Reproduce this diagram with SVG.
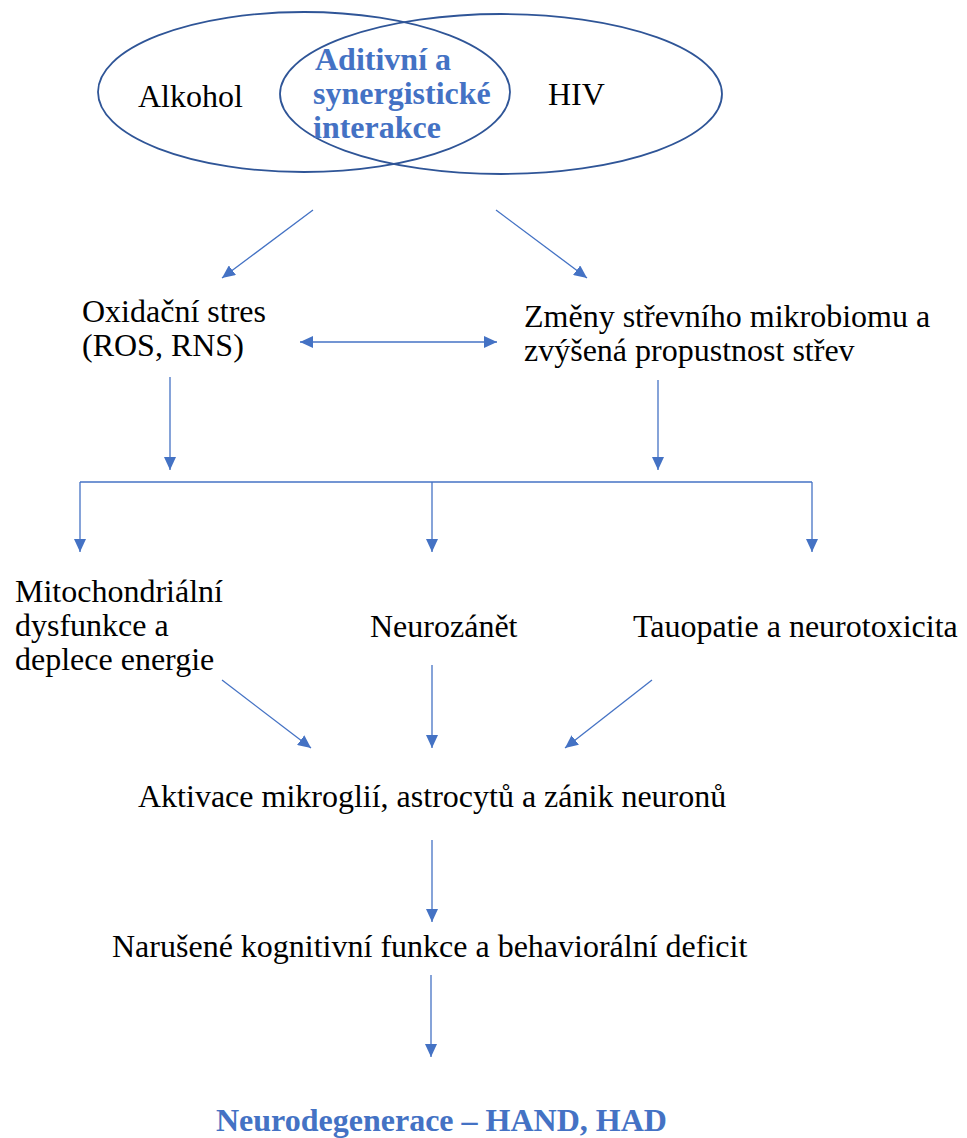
<svg xmlns="http://www.w3.org/2000/svg" width="967" height="1138" viewBox="0 0 967 1138">
<style>
.t{font-family:'Liberation Serif',Tinos,'Times New Roman',Times,'DejaVu Serif','Noto Serif',serif;font-size:32px;fill:#000}
.b{font-family:'Liberation Serif',Tinos,'Times New Roman',Times,'DejaVu Serif','Noto Serif',serif;font-size:32px;font-weight:bold;fill:#4472C4}
.c{stroke:#4472C4;stroke-width:1.3;fill:none}
.e{stroke:#2F5597;stroke-width:1.8;fill:none}
</style>
<defs>
<marker id="ah" markerUnits="userSpaceOnUse" markerWidth="14" markerHeight="12" refX="13" refY="6" orient="auto-start-reverse">
<path d="M0,0 L13,6 L0,12 Z" fill="#4472C4"/>
</marker>
</defs>
<rect width="967" height="1138" fill="#fff"/>
<g id="venn">
<ellipse class="e" cx="304" cy="92" rx="206" ry="80"/>
<ellipse class="e" cx="501" cy="94" rx="221" ry="80"/>
</g>
<g id="alkohol"><text class="t" x="138" y="107">Alkohol</text></g>
<g id="hiv"><text class="t" x="548" y="105">HIV</text></g>
<g id="interakce">
<text class="b" x="315" y="70">Aditivní a</text>
<text class="b" x="313" y="104">synergistické</text>
<text class="b" x="313" y="138">interakce</text>
</g>
<g id="oxidacni"><text class="t" x="82" y="322">Oxidační stres</text><text class="t" x="82" y="356">(ROS, RNS)</text></g>
<g id="mikrobiom"><text class="t" x="524" y="327">Změny střevního mikrobiomu a</text><text class="t" x="524" y="361">zvýšená propustnost střev</text></g>
<g id="mitochondrie"><text class="t" x="15" y="602">Mitochondriální</text><text class="t" x="15" y="636">dysfunkce a</text><text class="t" x="15" y="670">deplece energie</text></g>
<g id="neurozanet"><text class="t" x="370" y="637">Neurozánět</text></g>
<g id="tauopatie"><text class="t" x="633" y="637">Tauopatie a neurotoxicita</text></g>
<g id="aktivace"><text class="t" x="138" y="807">Aktivace mikroglií, astrocytů a zánik neuronů</text></g>
<g id="kognice"><text class="t" x="112" y="957">Narušené kognitivní funkce a behaviorální deficit</text></g>
<g id="neurodegenerace"><text class="b" x="216" y="1131">Neurodegenerace – HAND, HAD</text></g>
<g id="connectors">
<line class="c" x1="313" y1="210" x2="222" y2="278" marker-end="url(#ah)"/>
<line class="c" x1="496" y1="210" x2="587" y2="278" marker-end="url(#ah)"/>
<line class="c" x1="300" y1="342" x2="497" y2="342" marker-start="url(#ah)" marker-end="url(#ah)"/>
<line class="c" x1="170" y1="377" x2="170" y2="470" marker-end="url(#ah)"/>
<line class="c" x1="658" y1="380" x2="658" y2="470" marker-end="url(#ah)"/>
<path class="c" d="M80,482 H812"/>
<line class="c" x1="80" y1="482" x2="80" y2="552" marker-end="url(#ah)"/>
<line class="c" x1="432" y1="482" x2="432" y2="552" marker-end="url(#ah)"/>
<line class="c" x1="812" y1="482" x2="812" y2="552" marker-end="url(#ah)"/>
<line class="c" x1="222" y1="680" x2="311" y2="748" marker-end="url(#ah)"/>
<line class="c" x1="432" y1="665" x2="432" y2="748" marker-end="url(#ah)"/>
<line class="c" x1="652" y1="680" x2="565" y2="748" marker-end="url(#ah)"/>
<line class="c" x1="432" y1="840" x2="432" y2="922" marker-end="url(#ah)"/>
<line class="c" x1="431" y1="975" x2="431" y2="1057" marker-end="url(#ah)"/>
</g>
</svg>
